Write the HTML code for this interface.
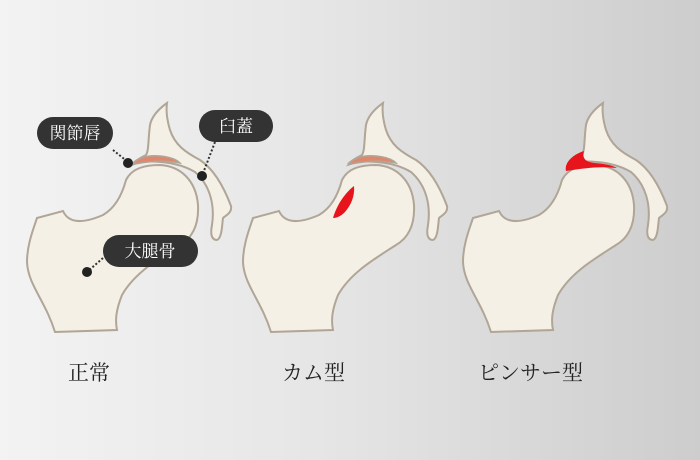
<!DOCTYPE html>
<html><head><meta charset="utf-8"><style>
html,body{margin:0;padding:0}
body{width:700px;height:460px;overflow:hidden;background:linear-gradient(90deg,#f3f3f3 0%,#e6e6e6 45%,#cdcdcd 100%);}
svg{position:absolute;left:0;top:0}
</style></head><body>
<svg width="700" height="460" viewBox="0 0 700 460" font-family="'Liberation Serif','Noto Serif CJK SC',serif">
<defs>
<g id="fem">
<path d="M37,218 L63,211 C68,222 80,225 103,215 C115,208 122,195 126,180 C132,168 145,165 160,165 C180,166 196,180 198,205 C199,225 192,238 180,245 C160,258 135,272 122,295 C116,310 115,320 117,330 L55,332 C45,300 28,285 27,262 C27,245 33,230 37,218 Z" fill="#f4f0e6" stroke="#b0a596" stroke-width="2"/>
</g>
<g id="pel">
<path d="M167,103 C160,108 152,115 150,125 C148,140 149,150 146,155 C140,158 135,161 132,164 C145,160 175,160 195,172 C210,185 215,205 212,225 C210,235 212,240 217,240 C222,238 222,225 223,218 C228,214 232,212 231,206 C225,190 215,170 200,160 C185,152 175,145 170,130 C167,120 166,110 167,103 Z" fill="#f4f0e6" stroke="#b0a596" stroke-width="2"/>
</g>
<g id="lab">
<path d="M132,165 C138,157 148,155 160,156 C170,157 176,159 180,163 C165,160 145,161 132,165 Z" fill="#e0866c" stroke="#b0a596" stroke-width="1.5"/>
</g>
</defs>
<use href="#fem"/><use href="#pel"/><use href="#lab"/>
<g transform="translate(216,0)"><use href="#fem"/><use href="#pel"/><use href="#lab"/></g>
<path d="M354,186 C346,192 337,204 333,218 C338,218 342,215 345,212 C351,205 355,196 354,186 Z" fill="#e8141c"/>
<g transform="translate(436,0)"><use href="#fem"/><use href="#pel"/></g>
<path d="M566,171 C564,162 574,154 584,151 C582,158 585,162 595,163 C605,164 612,165 617,168 C600,166 585,168 566,171 Z" fill="#e8141c"/>
<g stroke="#333" stroke-width="2" stroke-dasharray="2,2" fill="none">
<path d="M113,150 L128,162"/><path d="M215,142 L202,176"/><path d="M103,258 L87,272"/>
</g>
<circle cx="128" cy="163" r="5" fill="#222"/><circle cx="202" cy="176" r="5" fill="#222"/><circle cx="87" cy="272" r="5" fill="#222"/>
<rect x="37" y="117" width="76" height="32" rx="16" fill="#333"/>
<rect x="199" y="110" width="74" height="32" rx="16" fill="#333"/>
<rect x="103" y="235" width="95" height="32" rx="16" fill="#333"/>
<g fill="#fff" font-size="17" text-anchor="middle">
<text x="75" y="139">関節唇</text><text x="236" y="132">臼蓋</text><text x="150" y="257">大腿骨</text>
</g>
<g fill="#222" font-size="21">
<text x="68" y="380">正常</text><text x="282" y="380">カム型</text><text x="478" y="380">ピンサー型</text>
</g>
</svg>
</body></html>
